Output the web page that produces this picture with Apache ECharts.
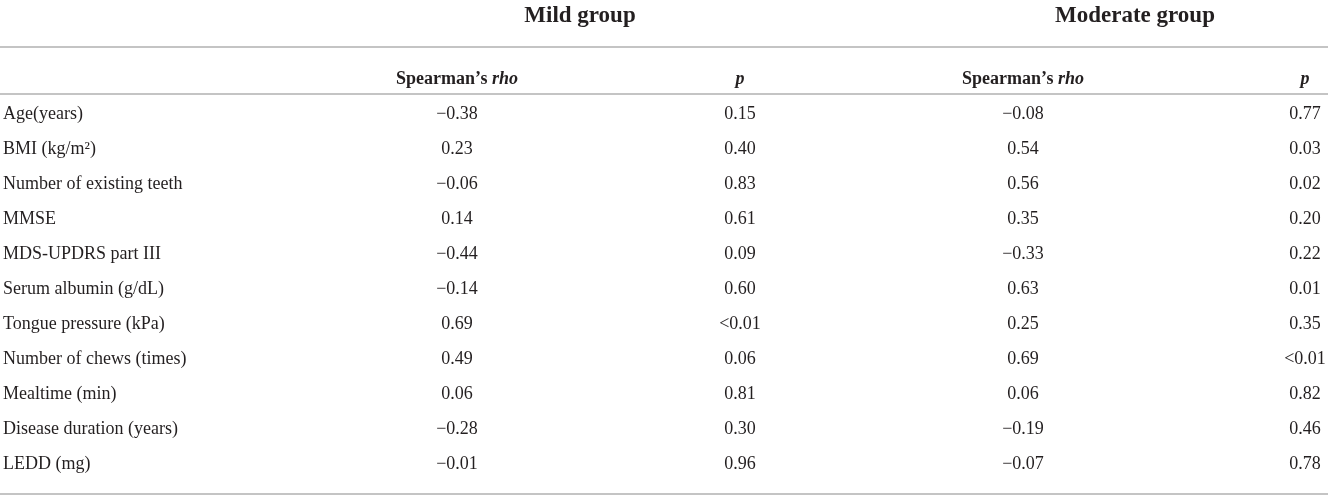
<!DOCTYPE html>
<html>
<head>
<meta charset="utf-8">
<title>Spearman correlations</title>
<script src="https://cdn.jsdelivr.net/npm/echarts@6/dist/echarts.min.js"></script>
<style>
  html, body { margin: 0; padding: 0; background: #fff; }
  #chart { width: 1332px; height: 498px; }
</style>
</head>
<body>
<div id="chart"></div>
<script>
  // table content
  var groupHeaders = ["Mild group", "Moderate group"];
  var subHeaders = ["Spearman\u2019s {i|rho}", "{i|p}", "Spearman\u2019s {i|rho}", "{i|p}"];
  var rowLabels = [
    "Age(years)",
    "BMI (kg/m\u00b2)",
    "Number of existing teeth",
    "MMSE",
    "MDS-UPDRS part III",
    "Serum albumin (g/dL)",
    "Tongue pressure (kPa)",
    "Number of chews (times)",
    "Mealtime (min)",
    "Disease duration (years)",
    "LEDD (mg)"
  ];
  var mildRho = ["\u22120.38", "0.23", "\u22120.06", "0.14", "\u22120.44", "\u22120.14", "0.69", "0.49", "0.06", "\u22120.28", "\u22120.01"];
  var mildP = ["0.15", "0.40", "0.83", "0.61", "0.09", "0.60", "<0.01", "0.06", "0.81", "0.30", "0.96"];
  var modRho = ["\u22120.08", "0.54", "0.56", "0.35", "\u22120.33", "0.63", "0.25", "0.69", "0.06", "\u22120.19", "\u22120.07"];
  var modP = ["0.77", "0.03", "0.02", "0.20", "0.22", "0.01", "0.35", "<0.01", "0.82", "0.46", "0.78"];

  // layout: column anchors in px, header rows in row units
  var colX = [3, 457, 740, 1023, 1305];
  var groupX = [580, 1135];
  var subHeaderRow = -1;
  var groupHeaderRow = -2.8;
  var ruleRows = [-1.89, -0.55, 10.88];

  var ink = "#231f20";
  var serif = "'Liberation Serif', 'DejaVu Serif', serif";

  var cells = [];
  groupHeaders.forEach(function (t, i) {
    cells.push({ value: [groupX[i], groupHeaderRow], text: t, kind: "group" });
  });
  subHeaders.forEach(function (t, i) {
    cells.push({ value: [colX[i + 1], subHeaderRow], text: t, kind: "sub" });
  });
  var cols = [rowLabels, mildRho, mildP, modRho, modP];
  rowLabels.forEach(function (_, r) {
    cols.forEach(function (arr, c) {
      cells.push({ value: [colX[c], r], text: arr[r], kind: c === 0 ? "label" : "num" });
    });
  });

  function renderCell(params, api) {
    var cell = cells[params.dataIndex];
    var pt = api.coord([api.value(0), api.value(1)]);
    var size = cell.kind === "group" ? 23 : 18;
    var weight = (cell.kind === "group" || cell.kind === "sub") ? "bold" : "normal";
    return {
      type: "text",
      x: pt[0],
      y: pt[1] + 1,
      style: {
        text: cell.text,
        fill: ink,
        fontFamily: serif,
        fontSize: size,
        fontWeight: weight,
        align: cell.kind === "label" ? "left" : "center",
        verticalAlign: "middle",
        rich: {
          i: { fontFamily: serif, fontSize: 18, fontWeight: "bold", fontStyle: "italic", fill: ink }
        }
      }
    };
  }

  function renderRule(params, api) {
    var a = api.coord([0, api.value(0)]);
    var b = api.coord([1328, api.value(0)]);
    return {
      type: "line",
      shape: { x1: a[0], y1: Math.round(a[1]), x2: b[0], y2: Math.round(b[1]) },
      style: { stroke: "#c4c4c4", lineWidth: 2 }
    };
  }

  var chart = echarts.init(document.getElementById("chart"), null, { renderer: "canvas" });
  chart.setOption({
    animation: false,
    backgroundColor: "#ffffff",
    grid: { left: 0, right: 0, top: 0, bottom: 0 },
    xAxis: { type: "value", min: 0, max: 1332, show: false },
    yAxis: { type: "value", min: -113 / 35, max: 11, inverse: true, show: false },
    series: [
      {
        type: "custom",
        renderItem: renderRule,
        data: ruleRows.map(function (r) { return [r]; }),
        encode: { y: 0 },
        silent: true
      },
      {
        type: "custom",
        renderItem: renderCell,
        data: cells.map(function (c) { return c.value; }),
        encode: { x: 0, y: 1 },
        silent: true
      }
    ]
  });
  window.addEventListener("resize", function () { chart.resize(); });
</script>
</body>
</html>
